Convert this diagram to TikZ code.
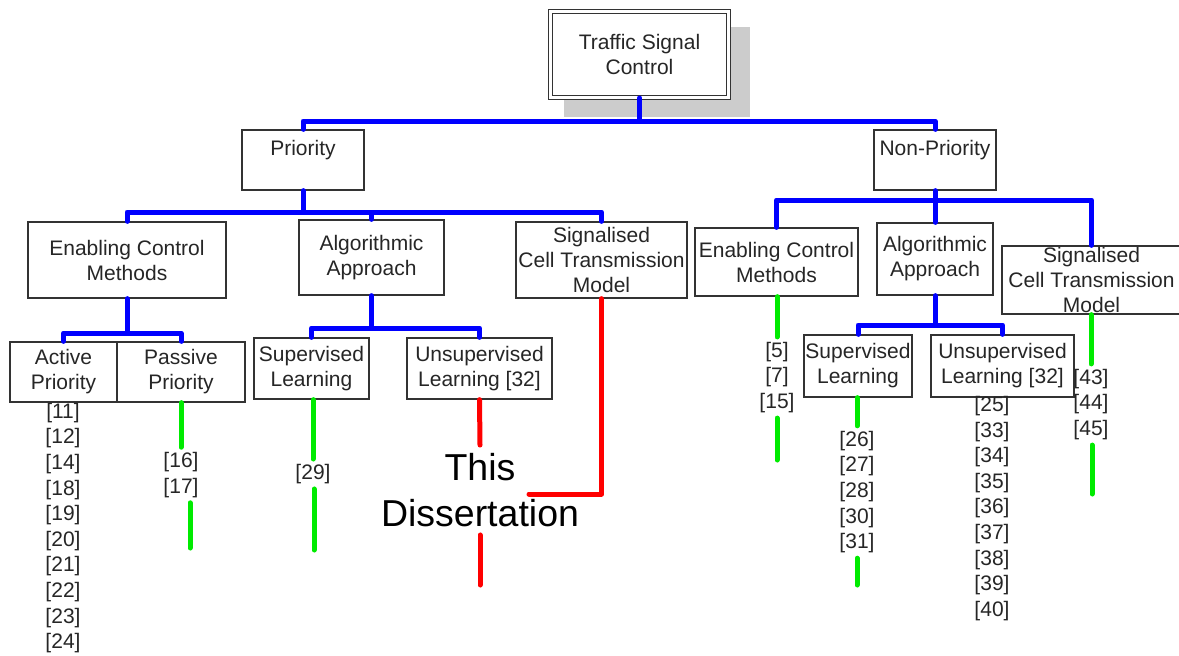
\documentclass[tikz,border=0pt]{standalone}
\usepackage{fontspec}
\setmainfont{Liberation Sans}
\usetikzlibrary{calc,shadows}
\definecolor{busblue}{RGB}{0,0,255}
\definecolor{citegreen}{RGB}{0,235,0}
\definecolor{thisred}{RGB}{255,0,0}
\begin{document}
\begin{tikzpicture}[x=1pt,y=-1pt,
  box/.style={draw=black!80,line width=1.3pt,fill=white,inner sep=0pt,align=center,text=black!85,font=\fontsize{21}{25}\selectfont},
  refs/.style={align=center,inner xsep=2pt,inner ysep=5pt,text=black!85,font=\fontsize{21}{25.6}\selectfont},
  bus/.style={busblue,line width=5pt,line join=round,line cap=round},
  cite/.style={citegreen,line width=5pt,line cap=round},
  mine/.style={thisred,line width=5pt,line cap=round,line join=round}]
 \useasboundingbox (0,0) rectangle (1179,656);
 \node[box,double,double distance=3pt,line width=1pt,minimum width=178pt,minimum height=86pt,
   drop shadow={shadow xshift=17pt,shadow yshift=-17pt,shadow scale=1.045,fill=black!20,opacity=1}] (tsc) at (639.5,54.5) {Traffic Signal\\Control};
 \node[box,minimum width=122pt,minimum height=60pt] (prio) at (303,160) {Priority\\~};
 \node[box,minimum width=122pt,minimum height=60pt] (nonp) at (935,160) {Non-Priority\\~};
 \node[box,minimum width=198pt,minimum height=76pt] (ecmL) at (127,260) {Enabling Control\\Methods};
 \node[box,minimum width=145pt,minimum height=75pt] (algL) at (371.5,257.5) {Algorithmic\\Approach};
 \node[box,minimum width=171pt,minimum height=76pt] (ctmL) at (601.5,260) {Signalised\\Cell Transmission\\Model};
 \node[box,minimum width=107pt,minimum height=60pt] (act) at (63.5,372) {Active\\Priority};
 \node[box,minimum width=128pt,minimum height=60pt] (pas) at (181,372) {Passive\\Priority};
 \node[box,minimum width=115pt,minimum height=61pt] (supL) at (311.5,368.5) {Supervised\\Learning};
 \node[box,minimum width=145pt,minimum height=61pt] (unsL) at (479.5,368.5) {Unsupervised\\Learning [32]};
 \node[box,minimum width=163pt,minimum height=68pt] (ecmR) at (776.5,262) {Enabling Control\\Methods};
 \node[box,minimum width=116pt,minimum height=72pt] (algR) at (935,259) {Algorithmic\\Approach};
 \node[box,minimum width=179pt,minimum height=68pt] (ctmR) at (1091.5,280) {Signalised\\Cell Transmission\\Model};
 \node[box,minimum width=108pt,minimum height=62pt] (supR) at (858,366) {Supervised\\Learning};
 \node[box,minimum width=143pt,minimum height=62pt] (unsR) at (1002.5,366) {Unsupervised\\Learning [32]};
 \node[refs] (actRef) at (63,528) {[11]\\{[12]}\\{[14]}\\{[18]}\\{[19]}\\{[20]}\\{[21]}\\{[22]}\\{[23]}\\{[24]}};
 \node[refs] (pasRef) at (181,475) {[16]\\{[17]}};
 \node[refs] (supLRef) at (313,474) {[29]};
 \node[refs] (ecmRRef) at (777,377.5) {[5]\\{[7]}\\{[15]}};
 \node[refs] (supRRef) at (857,492) {[26]\\{[27]}\\{[28]}\\{[30]}\\{[31]}};
 \node[refs] (unsRRef) at (992,508.5) {[25]\\{[33]}\\{[34]}\\{[35]}\\{[36]}\\{[37]}\\{[38]}\\{[39]}\\{[40]}};
 \node[refs] (ctmRRef) at (1091,404.5) {[43]\\{[44]}\\{[45]}};
 \node[align=center,inner sep=8pt,font=\fontsize{37.5}{46}\selectfont] (diss) at (480,490) {This\\Dissertation};
 \coordinate (lvl1) at (0,121); \coordinate (lvl2) at (0,212); \coordinate (lvl3) at (0,200);
 \coordinate (lvl4) at (0,333); \coordinate (lvl5) at (0,328); \coordinate (lvl6) at (0,325);
 \coordinate (pasEnd) at (190,548); \coordinate (supLEnd) at (314,550); \coordinate (unsEnd) at (480,585);
 \coordinate (ctmEnd) at (529,494); \coordinate (ecmREnd) at (777,460); \coordinate (supREnd) at (857,585);
 \coordinate (ctmREnd) at (1092,494);
 \draw[bus] (tsc.south) -- (tsc.south |- lvl1) -| (prio.north); \draw[bus] (tsc.south |- lvl1) -| (nonp.north);
 \draw[bus] (prio.south) -- (prio.south |- lvl2) -| (ecmL.north); \draw[bus] (prio.south |- lvl2) -| (algL.north);
 \draw[bus] (prio.south |- lvl2) -| (ctmL.north);
 \draw[bus] (nonp.south) -- (nonp.south |- lvl3) -| (ecmR.north); \draw[bus] (nonp.south |- lvl3) -| (algR.north);
 \draw[bus] (nonp.south |- lvl3) -| (ctmR.north);
 \draw[bus] (ecmL.south) -- (ecmL.south |- lvl4) -| (act.north); \draw[bus] (ecmL.south |- lvl4) -| (pas.north);
 \draw[bus] (algL.south) -- (algL.south |- lvl5) -| (supL.north); \draw[bus] (algL.south |- lvl5) -| (unsL.north);
 \draw[bus] (algR.south) -- (algR.south |- lvl6) -| (supR.north); \draw[bus] (algR.south |- lvl6) -| (unsR.north);
 \draw[cite] (pasRef.north |- pas.south) -- (pasRef.north); \draw[cite] (pasRef.south -| pasEnd) -- (pasEnd);
 \draw[cite] (supLRef.north |- supL.south) -- (supLRef.north); \draw[cite] (supLRef.south -| supLEnd) -- (supLEnd);
 \draw[cite] (ecmRRef.north |- ecmR.south) -- (ecmRRef.north); \draw[cite] (ecmRRef.south) -- (ecmREnd);
 \draw[cite] (supRRef.north |- supR.south) -- (supRRef.north); \draw[cite] (supRRef.south) -- (supREnd);
 \draw[cite] (ctmRRef.north |- ctmR.south) -- (ctmRRef.north); \draw[cite] (ctmRRef.south -| ctmREnd) -- (ctmREnd);
 \draw[mine] (unsL.south) -- (diss.north); \draw[mine] (diss.south) -- (unsEnd);
 \draw[mine] (ctmL.south) |- (ctmEnd);
\end{tikzpicture}
\end{document}
